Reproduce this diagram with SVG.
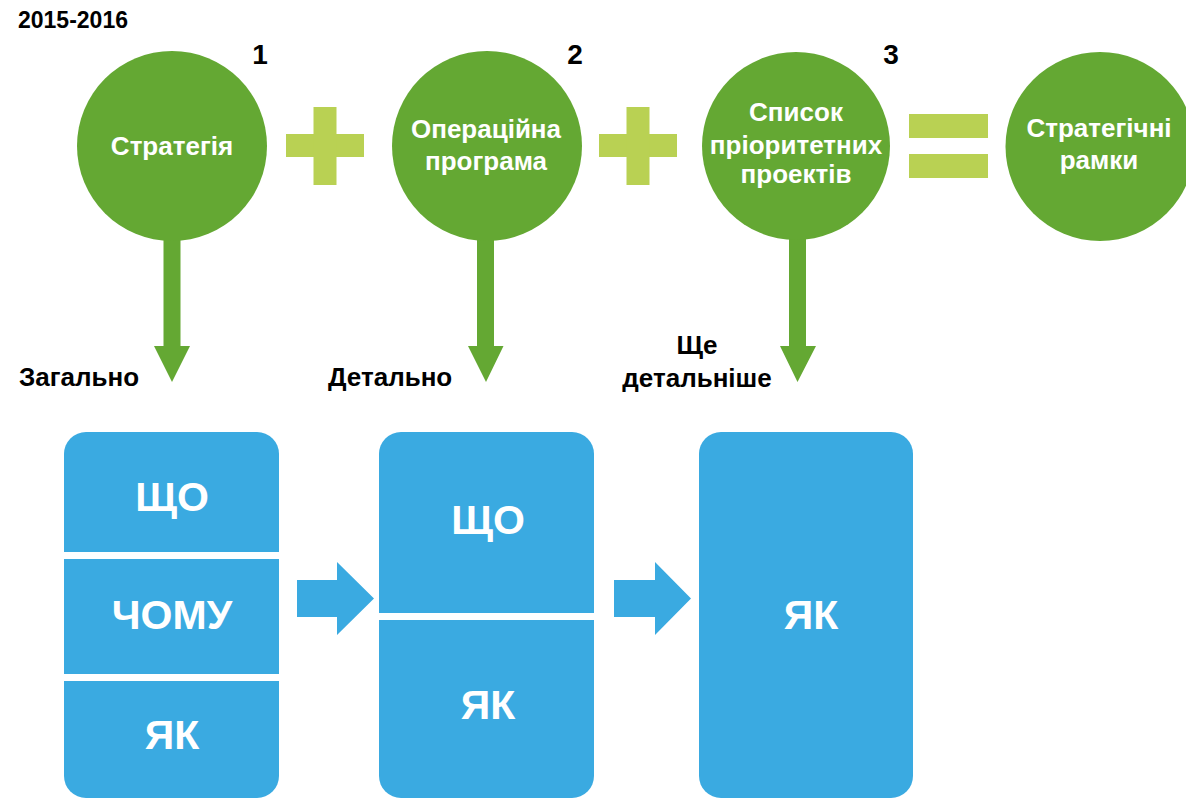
<svg xmlns="http://www.w3.org/2000/svg" width="1186" height="799" viewBox="0 0 1186 799">
  <style>
    .circle { fill: #64a833; }
    .op { fill: #b9d153; }
    .flow { fill: #64a833; }
    .box { fill: #3aaae1; }
    .gap { fill: #ffffff; }
    .bluearrow { fill: #3aaae1; }
    text { font-family: "Liberation Sans", Arial, Helvetica, sans-serif; font-weight: bold; }
    .clabel { fill: #ffffff; font-size: 26px; text-anchor: middle; }
    .blabel { fill: #ffffff; font-size: 41px; text-anchor: middle; }
    .num { fill: #000000; font-size: 28px; text-anchor: middle; }
    .note { fill: #000000; font-size: 26px; }
    .year { fill: #000000; font-size: 23px; }
  </style>

  <rect x="0" y="0" width="1186" height="799" fill="#ffffff"/>

  <text class="year" x="18" y="28">2015-2016</text>

  <!-- connectors: downward arrows from the circles, operators, sideways arrows -->
  <g id="connectors">
    <path class="flow" d="M163.5,238 H180.5 V346 H190 L172,382 L154,346 H163.5 Z"/>
    <path class="flow" d="M477,238 H494 V346 H503.5 L486,382 L468,346 H477 Z"/>
    <path class="flow" d="M789,238 H806 V346 H816 L797.5,382 L780,346 H789 Z"/>

    <!-- plus signs -->
    <rect class="op" x="286" y="134" width="78" height="23"/>
    <rect class="op" x="313.5" y="107" width="23" height="78"/>
    <rect class="op" x="599" y="134" width="78" height="23"/>
    <rect class="op" x="626.5" y="107" width="23" height="78"/>

    <!-- equals sign -->
    <rect class="op" x="909" y="114" width="79" height="24"/>
    <rect class="op" x="909" y="154" width="79" height="24"/>

    <!-- block arrows between boxes -->
    <path class="bluearrow" d="M297,580 H337 V562 L374,598.5 L337,635 V617 H297 Z"/>
    <path class="bluearrow" d="M614,580 H655 V562 L691,598.5 L655,635 V617 H614 Z"/>
  </g>

  <g id="node-strategy">
    <circle class="circle" cx="172" cy="146" r="95"/>
    <text class="clabel" x="172" y="155">Стратегія</text>
    <text class="num" x="260" y="64">1</text>
  </g>

  <g id="node-program">
    <circle class="circle" cx="487" cy="146" r="95"/>
    <text class="clabel" x="486" y="138">Операційна</text>
    <text class="clabel" x="486" y="170">програма</text>
    <text class="num" x="575" y="64">2</text>
  </g>

  <g id="node-projects">
    <circle class="circle" cx="796" cy="146" r="94"/>
    <text class="clabel" x="796" y="121">Список</text>
    <text class="clabel" x="796" y="154">пріоритетних</text>
    <text class="clabel" x="796" y="183">проектів</text>
    <text class="num" x="891" y="64">3</text>
  </g>

  <g id="node-framework">
    <circle class="circle" cx="1100" cy="146.5" r="94.5"/>
    <text class="clabel" x="1099" y="137">Стратегічні</text>
    <text class="clabel" x="1099" y="169">рамки</text>
  </g>

  <g id="label-general">
    <text class="note" x="19" y="386">Загально</text>
  </g>
  <g id="label-detailed">
    <text class="note" x="328" y="386">Детально</text>
  </g>
  <g id="label-more-detailed">
    <text class="note" x="697" y="354" text-anchor="middle">Ще</text>
    <text class="note" x="697" y="387" text-anchor="middle">детальніше</text>
  </g>

  <g id="box-strategy">
    <rect class="box" x="64" y="432" width="215" height="366" rx="22"/>
    <rect class="gap" x="60" y="552" width="224" height="7"/>
    <rect class="gap" x="60" y="674" width="224" height="7"/>
    <text class="blabel" x="172" y="511">ЩО</text>
    <text class="blabel" x="172" y="629">ЧОМУ</text>
    <text class="blabel" x="172" y="749">ЯК</text>
  </g>

  <g id="box-program">
    <rect class="box" x="379" y="432" width="215" height="366" rx="22"/>
    <rect class="gap" x="375" y="613" width="224" height="7"/>
    <text class="blabel" x="488" y="534">ЩО</text>
    <text class="blabel" x="488" y="719">ЯК</text>
  </g>

  <g id="box-projects">
    <rect class="box" x="699" y="432" width="214" height="366" rx="22"/>
    <text class="blabel" x="811" y="629">ЯК</text>
  </g>
</svg>
